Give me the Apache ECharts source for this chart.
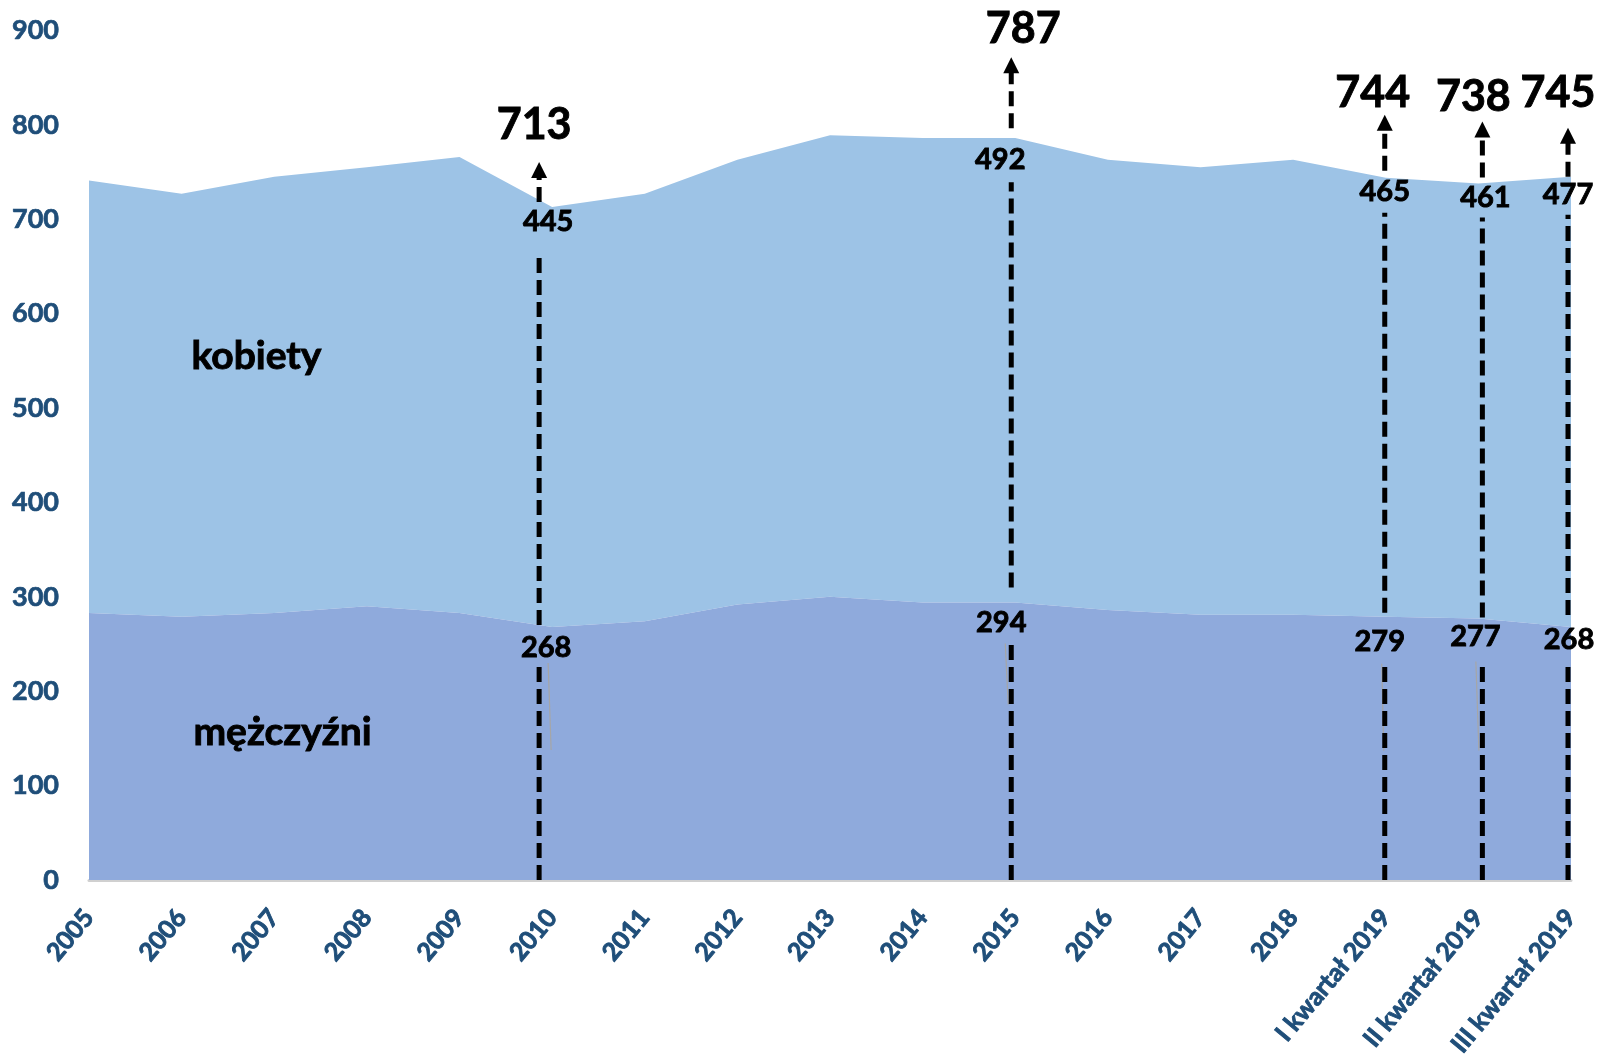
<!DOCTYPE html>
<html>
<head>
<meta charset="utf-8">
<script src="https://cdn.jsdelivr.net/npm/echarts@6/dist/echarts.min.js"></script>
<style>
html,body{margin:0;padding:0;background:#fff;}
#chart{width:1600px;height:1061px;}
</style>
</head>
<body>
<div id="chart"></div>
<script>
// ---- data ----
var categories = ['2005','2006','2007','2008','2009','2010','2011','2012','2013','2014','2015','2016','2017','2018','I kwartał 2019','II kwartał 2019','III kwartał 2019'];
var men   = [283, 279, 283, 290, 283, 268, 274, 292, 300, 294, 294, 286, 281, 281, 279, 277, 268];
var women = [458, 448, 462, 465, 483, 445, 453, 471, 489, 492, 492, 477, 474, 482, 465, 461, 477];
var yTicks = [0, 100, 200, 300, 400, 500, 600, 700, 800, 900];
// annotated points (category, total, men, women)
var annCats   = ['2010', '2015', 'I kwartał 2019', 'II kwartał 2019', 'III kwartał 2019'];
var annTotals = [713, 787, 744, 738, 745];
var annMen    = [268, 294, 279, 277, 268];
var annWomen  = [445, 492, 465, 461, 477];

// ---- layout / style (pixel offsets for annotation placement) ----
var annLayout = [
  {lineDx:-13, totDx:-18, totDy:-82, tipDy:-45, arrBot:-5, wDx:-4, wDy:15, lowTop:44, mDx:-6, mDy:21, mGapTop:-2, mGapBot:37, lead:[-4,36,-1,123]},
  {lineDx:-4,  totDx:8,   totDy:-108,tipDy:-80, arrBot:-9, wDx:-15, wDy:22, lowTop:45, mDx:-14, mDy:20, mGapTop:-15, mGapBot:41, lead:[-10,41,-7,102]},
  {lineDx:-1,  totDx:-13, totDy:-85, tipDy:-63, arrBot:-7, wDx:-1, wDy:14, lowTop:35, mDx:-6, mDy:25, mGapTop:-4, mGapBot:47, lead:[-4,47,-2,134]},
  {lineDx:4,   totDx:-5,  totDy:-86, tipDy:-62, arrBot:-6, wDx:7, wDy:14, lowTop:34, mDx:-3, mDy:18, mGapTop:-1, mGapBot:45, lead:[-2.5,43,0.5,132]},
  {lineDx:-3,  totDx:-13, totDy:-84, tipDy:-49, arrBot:0, wDx:-3, wDy:18, lowTop:38, mDx:-2, mDy:13, mGapTop:-12, mGapBot:37, lead:null}
];
var FONT = 'Lato, "Open Sans", sans-serif';
var axisColor = '#1F4E79';

var chart = echarts.init(document.getElementById('chart'), null, {renderer:'canvas'});
var option = {
  animation: false,
  backgroundColor: '#ffffff',
  grid: {left: 89, right: 29, top: 30.5, bottom: 181, containLabel: false, outerBoundsMode: 'none'},
  xAxis: {
    type: 'category',
    data: categories,
    boundaryGap: false,
    axisLine: {show: true, lineStyle: {color: '#D0D0D0', width: 3}},
    axisTick: {show: false},
    splitLine: {show: false},
    axisLabel: {
      rotate: 50, interval: 0, margin: 33, hideOverlap: false,
      color: axisColor, fontFamily: FONT, fontWeight: 'bold', fontSize: 25,
      textBorderColor: axisColor, textBorderWidth: 0.9
    }
  },
  yAxis: {
    type: 'value',
    min: 0, max: 900, interval: 100,
    axisLine: {show: false},
    axisTick: {show: false},
    splitLine: {show: false},
    axisLabel: {
      margin: 30, color: axisColor, fontFamily: FONT, fontWeight: 'bold', fontSize: 27,
      textBorderColor: axisColor, textBorderWidth: 0.7,
      formatter: function (v) { return yTicks.indexOf(v) >= 0 ? String(v) : ''; }
    }
  },
  series: [
    {
      name: 'mężczyźni', type: 'line', stack: 'total', data: men,
      symbol: 'none', lineStyle: {width: 0},
      areaStyle: {color: '#8FAADC', opacity: 1}, z: 2
    },
    {
      name: 'kobiety', type: 'line', stack: 'total', data: women,
      symbol: 'none', lineStyle: {width: 0},
      areaStyle: {color: '#9DC3E6', opacity: 1}, z: 1
    }
  ]
};
chart.setOption(option);

function px(cat, val) {
  return chart.convertToPixel({xAxisIndex: 0, yAxisIndex: 0}, [cat, val]);
}

var graphics = [];
var y0 = px(categories[0], 0)[1];
var dash = {stroke: '#000', lineWidth: 5, lineDash: [15, 7]};
function txt(x, y, s, size) {
  return {type: 'text', z: 11, x: x, y: y,
    style: {text: s, fill: '#000', stroke: '#000', lineWidth: 0.9, font: 'bold ' + size + 'px ' + FONT,
      textAlign: 'center', textVerticalAlign: 'middle'}};
}

annCats.forEach(function (cat, i) {
  var L = annLayout[i];
  var pT = px(cat, annTotals[i]);
  var pM = px(cat, annMen[i]);
  var x = pT[0] + L.lineDx;
  var yT = pT[1], yM = pM[1];
  // thin grey leader line
  if (L.lead) {
    graphics.push({type: 'line', z: 9, shape: {x1: pM[0] + L.lead[0], y1: yM + L.lead[1], x2: pM[0] + L.lead[2], y2: yM + L.lead[3]},
      style: {stroke: '#A6A6A6', lineWidth: 1.2}});
  }
  // lower segment: from axis up to men label gap
  graphics.push({type: 'line', z: 10, shape: {x1: x, y1: y0, x2: x, y2: yM + L.mGapBot}, style: dash});
  // middle segment: from men boundary up to women label
  graphics.push({type: 'line', z: 10, shape: {x1: x, y1: yM + L.mGapTop, x2: x, y2: yT + L.lowTop}, style: dash});
  // arrow segment
  var tip = yT + L.tipDy;
  graphics.push({type: 'line', z: 10, shape: {x1: x, y1: yT + L.arrBot, x2: x, y2: tip + 14}, style: dash});
  graphics.push({type: 'polygon', z: 10, shape: {points: [[x, tip], [x - 8, tip + 16], [x + 8, tip + 16]]}, style: {fill: '#000'}});
  // labels
  graphics.push(txt(pT[0] + L.totDx, yT + L.totDy, String(annTotals[i]), 43));
  graphics.push(txt(pT[0] + L.wDx, yT + L.wDy, String(annWomen[i]), 29));
  graphics.push(txt(pM[0] + L.mDx, yM + L.mDy, String(annMen[i]), 29));
});

// series names inside the areas
graphics.push({type: 'text', z: 11, left: 191, top: 336,
  style: {text: 'kobiety', fill: '#000', stroke: '#000', lineWidth: 0.9, font: 'bold 39px ' + FONT}});
graphics.push({type: 'text', z: 11, left: 193, top: 712,
  style: {text: 'mężczyźni', fill: '#000', stroke: '#000', lineWidth: 0.9, font: 'bold 39px ' + FONT}});

chart.setOption({graphic: graphics});
</script>
</body>
</html>
